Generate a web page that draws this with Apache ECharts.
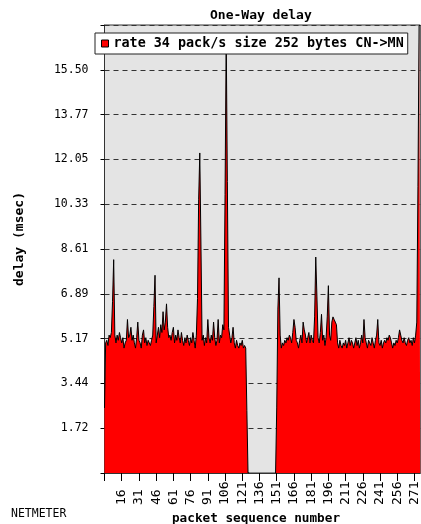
<!DOCTYPE html>
<html>
<head>
<meta charset="utf-8">
<script src="https://cdn.jsdelivr.net/npm/echarts@6/dist/echarts.min.js"></script>
<style>
html,body{margin:0;padding:0;background:#fff;}
#chart{width:421px;height:524px;}
</style>
</head>
<body>
<div id="chart"></div>
<script>
// ---- data ----
var titleText = 'One-Way delay';
var seriesName = 'rate 34 pack/s size 252 bytes CN->MN';
var firstPacket = 1;
var lastPacket = 276;
// packets 1..125
var delaySeg1 = [
2.5,5.0,5.1,4.9,5.3,5.2,5.4,6.6,8.2,5.3,
5.0,5.3,5.1,5.4,5.2,5.0,5.2,4.8,5.0,5.1,
5.9,5.2,5.3,5.6,5.1,5.3,5.0,4.8,5.2,5.8,
5.1,5.0,4.8,5.3,5.5,5.0,5.2,4.9,5.1,5.0,
4.9,5.1,5.3,6.4,7.6,5.0,5.3,5.6,5.2,5.7,
5.4,6.2,5.5,5.8,6.5,5.6,5.2,5.3,5.1,5.4,
5.6,5.0,5.3,5.1,5.5,5.2,5.0,5.4,5.1,4.9,
5.2,5.0,5.3,5.1,4.9,5.2,5.0,5.4,5.1,4.8,
5.3,6.7,10.5,12.3,8.8,5.1,5.3,4.9,5.2,5.0,
5.9,5.2,5.0,5.3,5.1,5.8,5.2,4.9,5.1,5.9,
5.0,5.3,5.2,5.7,5.5,10.7,16.8,11.2,5.6,5.3,
5.0,5.2,5.6,5.0,4.8,5.1,4.9,4.8,5.0,4.9,
5.1,4.8,4.9,4.8,2.4
];
// packets 126..150 : lost (0 at the edges)
var lostFrom = 126, lostTo = 150;
// packets 151..275
var delaySeg2 = [
2.5,6.3,7.5,5.3,4.8,5.0,4.9,5.1,5.0,5.2,
5.1,5.3,5.2,5.0,5.4,5.9,5.6,5.1,5.0,4.8,
5.1,5.3,5.0,5.8,5.5,5.3,5.0,5.2,5.4,5.0,
5.3,5.1,5.0,6.0,8.3,6.8,5.2,5.0,5.4,6.1,
5.1,5.3,4.9,5.2,6.0,7.2,5.3,5.1,5.8,6.0,
5.9,5.8,5.7,5.0,4.8,5.1,4.9,4.8,5.0,4.9,
5.1,4.8,5.0,5.2,4.9,5.1,5.0,4.8,5.0,5.2,
4.9,5.1,4.8,5.0,5.3,5.0,5.9,5.2,5.0,4.8,
5.1,5.0,4.9,5.2,5.0,4.8,5.1,5.3,5.9,5.0,
4.9,5.1,4.8,5.0,5.1,5.0,5.2,5.1,5.3,5.2,
5.0,4.8,5.0,4.9,5.1,5.0,5.2,5.5,5.3,5.1,
5.0,5.2,5.0,4.9,5.1,5.2,5.0,5.1,4.9,5.2,
5.0,5.3,5.8,11.0,17.2
];
var yTickLabels = ['1.72','3.44','5.17','6.89','8.61','10.33','12.05','13.77','15.50'];
var yInterval = 1.7218;
var yMax = 17.218;

// ---- build ----
var categories = [];
for (var p = firstPacket; p <= lastPacket; p++) categories.push(String(p));
var values = [];
for (var i = 0; i < delaySeg1.length; i++) values.push(delaySeg1[i]);
for (var q = lostFrom; q <= lostTo; q++) values.push((q === lostFrom || q === lostTo) ? 0 : null);
for (var j = 0; j < delaySeg2.length; j++) values.push(delaySeg2[j]);
while (values.length < categories.length) values.push(null);

var mono = 'DejaVu Sans Mono';
var chart = echarts.init(document.getElementById('chart'), null, {renderer: 'canvas'});
chart.setOption({
  animation: false,
  backgroundColor: '#ffffff',
  title: {
    text: titleText, left: 210, top: 9, padding: 0,
    textStyle: {fontFamily: mono, fontWeight: 'bold', fontSize: 13, color: '#000'}
  },
  legend: {
    left: 95, top: 33, padding: [4, 4, 4, 6],
    backgroundColor: '#ffffff', borderColor: '#222', borderWidth: 1,
    itemWidth: 7, itemHeight: 7,
    textStyle: {fontFamily: mono, fontWeight: 'bold', fontSize: 13.4, color: '#000'},
    data: [{name: seriesName, icon: 'rect', itemStyle: {color: '#ff0000', borderColor: '#000', borderWidth: 1}}]
  },
  grid: {
    left: 104.5, top: 25, right: 0, bottom: 51,
    show: true, backgroundColor: '#e4e4e4', borderColor: '#333', borderWidth: 1
  },
  xAxis: {
    type: 'category', data: categories, boundaryGap: false,
    axisLine: {show: true, lineStyle: {color: '#333', width: 1}},
    axisTick: {show: true, length: 8, interval: function (idx) { return idx % 15 === 0; }, lineStyle: {color: '#000'}},
    axisLabel: {
      interval: function (idx) { return idx % 15 === 0 && idx > 0; },
      rotate: 90, align: 'left', margin: 32, padding: [7, 0, 0, 0],
      fontFamily: mono, fontSize: 13, color: '#000'
    },
    splitLine: {show: false}
  },
  yAxis: {
    type: 'value', min: 0, max: yMax, interval: yInterval,
    axisLine: {show: true, lineStyle: {color: '#333', width: 1}},
    axisTick: {show: true, length: 4, lineStyle: {color: '#000'}},
    axisLabel: {
      margin: 16, fontFamily: mono, fontSize: 11.5, color: '#000',
      formatter: function (v) {
        var k = Math.round(v / yInterval);
        return (k >= 1 && k <= yTickLabels.length) ? yTickLabels[k - 1] : '';
      }
    },
    splitLine: {show: true, lineStyle: {color: '#333', type: [5, 4], width: 1}}
  },
  graphic: [
    {type: 'text', x: 20, y: 239, rotation: Math.PI / 2,
     style: {text: 'delay (msec)', fill: '#000', font: 'bold 13px "DejaVu Sans Mono"', align: 'center', verticalAlign: 'middle'}},
    {type: 'text', x: 11, y: 514,
     style: {text: 'NETMETER', fill: '#000', font: '11.5px "DejaVu Sans Mono"', align: 'left', verticalAlign: 'middle'}},
    {type: 'text', x: 256, y: 519,
     style: {text: 'packet sequence number', fill: '#000', font: 'bold 12.7px "DejaVu Sans Mono"', align: 'center', verticalAlign: 'middle'}}
  ],
  series: [{
    name: seriesName, type: 'line', data: values, step: 'end',
    symbol: 'none', connectNulls: false, clip: true,
    lineStyle: {color: '#000', width: 1},
    itemStyle: {color: '#ff0000'},
    areaStyle: {color: '#ff0000', opacity: 1}
  }]
});
</script>
</body>
</html>
